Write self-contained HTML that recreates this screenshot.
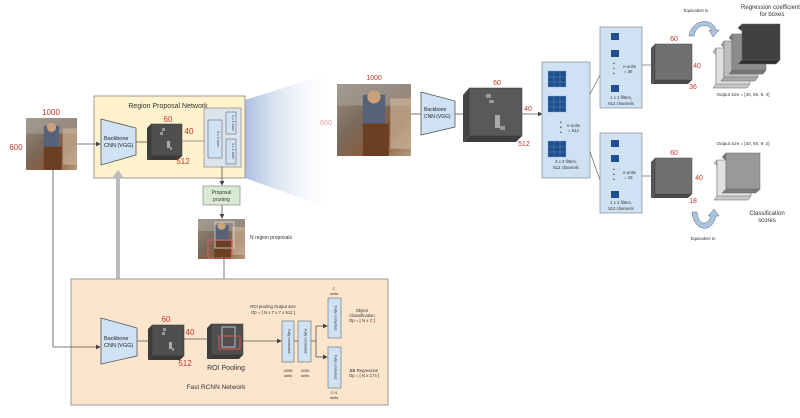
<!DOCTYPE html>
<html><head><meta charset="utf-8"><style>
html,body{margin:0;padding:0;background:#fff;width:800px;height:418px;overflow:hidden}
svg{display:block;font-family:"Liberation Sans",sans-serif}
.r{fill:#c0392b}
</style></head><body>
<svg width="800" height="418" viewBox="0 0 800 418" xmlns="http://www.w3.org/2000/svg">
<defs>
<linearGradient id="fan" x1="0" x2="1" y1="0" y2="0"><stop offset="0" stop-color="#a9bfe0"/><stop offset="1" stop-color="#ffffff" stop-opacity="0"/></linearGradient>
<linearGradient id="ph" x1="0" x2="1" y1="0" y2="1"><stop offset="0" stop-color="#9c8f80"/><stop offset="0.4" stop-color="#7a6a5c"/><stop offset="0.7" stop-color="#8a5a3a"/><stop offset="1" stop-color="#b59b7c"/></linearGradient>
<marker id="ah" markerWidth="6" markerHeight="6" refX="5" refY="3" orient="auto"><path d="M0,0L6,3L0,6z" fill="#444"/></marker>
<g id="photo">
<rect x="0" y="0" width="100" height="100" fill="url(#ph)"/>
<rect x="0" y="0" width="100" height="30" fill="#a8a39c" opacity=".6"/>
<rect x="35" y="15" width="30" height="45" fill="#56627a"/>
<circle cx="50" cy="18" r="9" fill="#c9a27d"/>
<rect x="35" y="55" width="35" height="45" fill="#6b3f22"/>
<rect x="72" y="20" width="28" height="70" fill="#c8b49a" opacity=".7"/>
</g>
<g id="cubeA">
</g>
</defs>

<!-- fan gradient -->
<polygon points="245,100 335,72 335,210 245,178" fill="url(#fan)"/>

<!-- left photo -->
<g transform="translate(26,118) scale(0.51,0.52)"><use href="#photo"/></g>
<text x="51" y="115" font-size="8" class="r" text-anchor="middle">1000</text>
<text x="16" y="150" font-size="8" class="r" text-anchor="middle">600</text>

<!-- RPN box -->
<rect x="94" y="96" width="151" height="82" fill="#fff2cc" stroke="#999" stroke-width="1"/>
<text x="168" y="108" font-size="7" fill="#333" text-anchor="middle">Region Proposal Network</text>
<line x1="77" y1="144" x2="100" y2="144" stroke="#555" stroke-width=".8" marker-end="url(#ah)"/>
<polygon points="101,119 136,128 136,155 101,165" fill="#cfe2f3" stroke="#555" stroke-width=".8"/>
<text x="104" y="140" font-size="5.5" fill="#222">Backbone</text>
<text x="104" y="147" font-size="5.5" fill="#222">CNN (VGG)</text>
<line x1="136" y1="142" x2="147" y2="142" stroke="#555" stroke-width=".8"/>
<!-- cube1 -->
<polygon points="147,128 151,124 151,156 147,160" fill="#3d3d3d"/>
<polygon points="147,160 151,156 182,156 178,160" fill="#3a3a3a"/>
<rect x="151" y="124" width="31" height="32" fill="#4f4f4f" stroke="#333" stroke-width=".5"/>
<rect x="162" y="128" width="3" height="3" fill="#999"/><rect x="160" y="132" width="3" height="3" fill="#999"/><rect x="167" y="141" width="3" height="7" fill="#aaa"/><rect x="170" y="147" width="2" height="3" fill="#999"/>
<text x="168" y="122" font-size="8" class="r" text-anchor="middle">60</text>
<text x="189" y="134" font-size="8" class="r" text-anchor="middle">40</text>
<text x="183" y="164" font-size="8" class="r" text-anchor="middle">512</text>
<line x1="182" y1="141" x2="204" y2="141" stroke="#777" stroke-width=".8"/>
<!-- conv panel -->
<rect x="204" y="108" width="37" height="59" fill="#dbe4ec" stroke="#888" stroke-width=".7"/>
<rect x="208" y="120" width="14" height="38" fill="#cfe2f3" stroke="#666" stroke-width=".6"/>
<rect x="226" y="112" width="10" height="22" fill="#cfe2f3" stroke="#666" stroke-width=".6"/>
<rect x="226" y="139" width="10" height="25" fill="#cfe2f3" stroke="#666" stroke-width=".6"/>
<text transform="translate(217,139) rotate(90)" font-size="3.5" fill="#333" text-anchor="middle">3 x 3 conv</text>
<text transform="translate(232,123) rotate(90)" font-size="3.5" fill="#333" text-anchor="middle">1 x 1 conv</text>
<text transform="translate(232,151) rotate(90)" font-size="3.5" fill="#333" text-anchor="middle">1 x 1 conv</text>
<line x1="222" y1="167" x2="222" y2="185" stroke="#555" stroke-width=".8" marker-end="url(#ah)"/>
<!-- proposal pruning -->
<rect x="203" y="186" width="37" height="19" fill="#d9ead3" stroke="#888" stroke-width=".7"/>
<text x="221.5" y="194" font-size="5" fill="#333" text-anchor="middle">Proposal</text>
<text x="221.5" y="201" font-size="5" fill="#333" text-anchor="middle">pruning</text>
<line x1="222" y1="205" x2="222" y2="218" stroke="#555" stroke-width=".8" marker-end="url(#ah)"/>
<!-- N region photo -->
<g transform="translate(198,219) scale(0.47,0.4)"><use href="#photo"/></g>
<rect x="215" y="222" width="19" height="26" fill="none" stroke="#ddd" stroke-width=".8"/>
<rect x="208" y="240" width="24" height="18" fill="none" stroke="#e06060" stroke-width="1"/>
<text x="250" y="239" font-size="5" fill="#333">N region proposals</text>
<line x1="224" y1="258" x2="224" y2="323" stroke="#555" stroke-width=".8" marker-end="url(#ah)"/>

<!-- gray thick double arrow -->
<line x1="118" y1="177" x2="118" y2="307" stroke="#bbb" stroke-width="4"/>
<polygon points="112,178 124,178 118,170" fill="#bbb"/>
<polygon points="112,307 124,307 118,315" fill="#bbb"/>

<!-- Fast RCNN box -->
<rect x="71" y="279" width="317" height="126" fill="#fce5cd" stroke="#999" stroke-width="1"/>
<text x="216" y="389" font-size="6.5" fill="#333" text-anchor="middle">Fast RCNN Network</text>
<polyline points="53,170 53,347 100,347" fill="none" stroke="#555" stroke-width=".8" marker-end="url(#ah)"/>
<polygon points="101,318 137,328 137,356 101,364" fill="#cfe2f3" stroke="#555" stroke-width=".8"/>
<text x="104" y="340" font-size="5.5" fill="#222">Backbone</text>
<text x="104" y="347" font-size="5.5" fill="#222">CNN (VGG)</text>
<line x1="137" y1="341" x2="148" y2="341" stroke="#555" stroke-width=".8"/>
<polygon points="148,329 152,325 152,356 148,360" fill="#3d3d3d"/>
<polygon points="148,360 152,356 184,356 180,360" fill="#3a3a3a"/>
<rect x="152" y="325" width="32" height="31" fill="#4f4f4f" stroke="#333" stroke-width=".5"/>
<rect x="163" y="328" width="3" height="3" fill="#999"/><rect x="162" y="332" width="3" height="3" fill="#999"/><rect x="169" y="342" width="3" height="7" fill="#aaa"/><rect x="172" y="348" width="2" height="3" fill="#999"/>
<text x="166" y="322" font-size="8" class="r" text-anchor="middle">60</text>
<text x="190" y="335" font-size="8" class="r" text-anchor="middle">40</text>
<text x="185" y="366" font-size="8" class="r" text-anchor="middle">512</text>
<line x1="184" y1="339" x2="207" y2="339" stroke="#555" stroke-width=".8"/>
<!-- ROI cube -->
<polygon points="207,328 211,324 211,355 207,359" fill="#3d3d3d"/>
<polygon points="207,359 211,355 243,355 239,359" fill="#3a3a3a"/>
<rect x="211" y="324" width="32" height="31" fill="#4f4f4f" stroke="#333" stroke-width=".5"/>
<rect x="222" y="327" width="13" height="20" fill="none" stroke="#cde" stroke-width=".8"/>
<rect x="219" y="336" width="21" height="13" fill="none" stroke="#e05050" stroke-width="1"/>
<text x="226" y="370" font-size="7" fill="#333" text-anchor="middle">ROI Pooling</text>
<text x="273" y="308" font-size="4.3" fill="#333" text-anchor="middle">ROI pooling Output size</text>
<text x="273" y="314" font-size="4.3" fill="#333" text-anchor="middle">Op = [ N x 7 x 7 x 512 ]</text>
<line x1="243" y1="341" x2="281" y2="341" stroke="#555" stroke-width=".8" marker-end="url(#ah)"/>
<rect x="282" y="321" width="12" height="41" fill="#cfe2f3" stroke="#666" stroke-width=".6"/>
<rect x="298" y="321" width="13" height="41" fill="#cfe2f3" stroke="#666" stroke-width=".6"/>
<line x1="294" y1="341" x2="298" y2="341" stroke="#555" stroke-width=".8"/>
<text transform="translate(288,341) rotate(90)" font-size="3.5" fill="#333" text-anchor="middle">Fully connected</text>
<text transform="translate(304.5,341) rotate(90)" font-size="3.5" fill="#333" text-anchor="middle">Fully connected</text>
<text x="288" y="372" font-size="4" fill="#333" text-anchor="middle">4096</text><text x="288" y="377" font-size="4" fill="#333" text-anchor="middle">units</text>
<text x="305" y="372" font-size="4" fill="#333" text-anchor="middle">4096</text><text x="305" y="377" font-size="4" fill="#333" text-anchor="middle">units</text>
<polyline points="311,341 316,341" stroke="#555" stroke-width=".8" fill="none"/>
<polyline points="316,326 316,357" stroke="#555" stroke-width=".8" fill="none"/>
<line x1="316" y1="326" x2="327" y2="326" stroke="#555" stroke-width=".8" marker-end="url(#ah)"/>
<line x1="316" y1="357" x2="327" y2="357" stroke="#555" stroke-width=".8" marker-end="url(#ah)"/>
<rect x="328" y="298" width="13" height="40" fill="#cfe2f3" stroke="#666" stroke-width=".6"/>
<rect x="328" y="347" width="13" height="41" fill="#cfe2f3" stroke="#666" stroke-width=".6"/>
<text transform="translate(334.5,318) rotate(90)" font-size="3.5" fill="#333" text-anchor="middle">Fully connected</text>
<text transform="translate(334.5,367) rotate(90)" font-size="3.5" fill="#333" text-anchor="middle">Fully connected</text>
<text x="334" y="290" font-size="4" fill="#333" text-anchor="middle">C</text><text x="334" y="295" font-size="4" fill="#333" text-anchor="middle">units</text>
<text x="334" y="394" font-size="4" fill="#333" text-anchor="middle">C*4</text><text x="334" y="399" font-size="4" fill="#333" text-anchor="middle">units</text>
<text x="362" y="312" font-size="4.3" fill="#333" text-anchor="middle">Object</text>
<text x="362" y="317" font-size="4.3" fill="#333" text-anchor="middle">Classification</text>
<text x="362" y="322" font-size="4.3" fill="#333" text-anchor="middle">Op = [ N x C ]</text>
<text x="364" y="372" font-size="4.3" fill="#333" text-anchor="middle">BB Regression</text>
<text x="364" y="377" font-size="4.3" fill="#333" text-anchor="middle">Op = [ N x C*4 ]</text>

<!-- RIGHT SECTION -->
<g transform="translate(337,84) scale(0.74,0.72)"><use href="#photo"/></g>
<text x="374" y="80" font-size="7" class="r" text-anchor="middle">1000</text>
<text x="326" y="125" font-size="7" fill="#e0a0a0" text-anchor="middle">600</text>
<line x1="411" y1="114" x2="421" y2="114" stroke="#555" stroke-width=".8"/>
<polygon points="421,92 455,101 455,127 421,135" fill="#cfe2f3" stroke="#555" stroke-width=".8"/>
<text x="424" y="111" font-size="5" fill="#222">Backbone</text>
<text x="424" y="118" font-size="5" fill="#222">CNN (VGG)</text>
<line x1="455" y1="114" x2="463" y2="114" stroke="#555" stroke-width=".8"/>
<polygon points="463,95 469,88 469,136 463,142" fill="#444"/>
<polygon points="463,142 469,136 522,136 516,142" fill="#3e3e3e"/>
<rect x="469" y="88" width="53" height="48" fill="#595959" stroke="#333" stroke-width=".5"/>
<rect x="486" y="94" width="5" height="4" fill="#999"/><rect x="489" y="100" width="5" height="3" fill="#999"/><rect x="495" y="115" width="5" height="13" fill="#aaa"/><rect x="500" y="126" width="5" height="4" fill="#999"/>
<text x="497" y="85" font-size="7" class="r" text-anchor="middle">60</text>
<text x="528" y="111" font-size="7" class="r" text-anchor="middle">40</text>
<text x="524" y="146" font-size="7" class="r" text-anchor="middle">512</text>
<line x1="522" y1="114" x2="542" y2="114" stroke="#555" stroke-width=".8" marker-end="url(#ah)"/>
<!-- blue panel -->
<rect x="542" y="62" width="48" height="116" fill="#cfe2f3" stroke="#888" stroke-width=".7"/>
<g fill="#1f4e8c" stroke="#7fa8d8" stroke-width=".4">
<rect x="548" y="71" width="18" height="16"/><rect x="548" y="96" width="18" height="16"/><rect x="548" y="141" width="18" height="16"/>
</g>
<g stroke="#6d9bd1" stroke-width=".4">
<line x1="554" y1="71" x2="554" y2="87"/><line x1="560" y1="71" x2="560" y2="87"/><line x1="548" y1="77" x2="566" y2="77"/><line x1="548" y1="82" x2="566" y2="82"/>
<line x1="554" y1="96" x2="554" y2="112"/><line x1="560" y1="96" x2="560" y2="112"/><line x1="548" y1="102" x2="566" y2="102"/><line x1="548" y1="107" x2="566" y2="107"/>
<line x1="554" y1="141" x2="554" y2="157"/><line x1="560" y1="141" x2="560" y2="157"/><line x1="548" y1="147" x2="566" y2="147"/><line x1="548" y1="152" x2="566" y2="152"/>
</g>
<text x="560" y="124" font-size="5" fill="#333">•</text><text x="560" y="129" font-size="5" fill="#333">•</text><text x="560" y="134" font-size="5" fill="#333">•</text>
<text x="567" y="127" font-size="4.3" fill="#333">n-units</text><text x="568" y="132" font-size="4.3" fill="#333">= 512</text>
<text x="566" y="163" font-size="4.3" fill="#333" text-anchor="middle">3 x 3 filters,</text>
<text x="566" y="169" font-size="4.3" fill="#333" text-anchor="middle">512 channels</text>
<line x1="590" y1="94" x2="600" y2="75" stroke="#555" stroke-width=".6"/>
<line x1="590" y1="152" x2="600" y2="180" stroke="#555" stroke-width=".6"/>
<!-- upper small panel -->
<rect x="600" y="27" width="42" height="81" fill="#cfe2f3" stroke="#888" stroke-width=".7"/>
<rect x="611" y="33" width="8" height="7" fill="#1f4e8c"/><rect x="611" y="50" width="8" height="7" fill="#1f4e8c"/><rect x="611" y="85" width="8" height="7" fill="#1f4e8c"/>
<text x="613" y="65" font-size="5" fill="#333">•</text><text x="613" y="70" font-size="5" fill="#333">•</text><text x="613" y="75" font-size="5" fill="#333">•</text>
<text x="623" y="68" font-size="4.3" fill="#333">n-units</text><text x="624" y="73" font-size="4.3" fill="#333">= 36</text>
<text x="621" y="99" font-size="4.3" fill="#333" text-anchor="middle">1 x 1 filters,</text>
<text x="621" y="105" font-size="4.3" fill="#333" text-anchor="middle">512 channels</text>
<!-- lower small panel -->
<rect x="600" y="133" width="42" height="80" fill="#cfe2f3" stroke="#888" stroke-width=".7"/>
<rect x="611" y="140" width="8" height="7" fill="#1f4e8c"/><rect x="611" y="155" width="8" height="7" fill="#1f4e8c"/><rect x="611" y="191" width="8" height="7" fill="#1f4e8c"/>
<text x="613" y="171" font-size="5" fill="#333">•</text><text x="613" y="176" font-size="5" fill="#333">•</text><text x="613" y="181" font-size="5" fill="#333">•</text>
<text x="623" y="174" font-size="4.3" fill="#333">n-units</text><text x="624" y="179" font-size="4.3" fill="#333">= 18</text>
<text x="621" y="204" font-size="4.3" fill="#333" text-anchor="middle">1 x 1 filters,</text>
<text x="621" y="210" font-size="4.3" fill="#333" text-anchor="middle">512 channels</text>
<line x1="642" y1="65" x2="651" y2="65" stroke="#555" stroke-width=".6"/>
<line x1="642" y1="176" x2="651" y2="176" stroke="#555" stroke-width=".6"/>
<!-- upper cube -->
<polygon points="651,48 655,44 655,80 651,84" fill="#555"/>
<polygon points="651,84 655,80 692,80 688,84" fill="#4a4a4a"/>
<rect x="655" y="44" width="37" height="36" fill="#707070" stroke="#444" stroke-width=".5"/>
<text x="674" y="41" font-size="7" class="r" text-anchor="middle">60</text>
<text x="697" y="68" font-size="7" class="r" text-anchor="middle">40</text>
<text x="693" y="89" font-size="7" class="r" text-anchor="middle">36</text>
<!-- lower cube -->
<polygon points="651,162 655,158 655,194 651,198" fill="#555"/>
<polygon points="651,198 655,194 692,194 688,198" fill="#4a4a4a"/>
<rect x="655" y="158" width="37" height="36" fill="#707070" stroke="#444" stroke-width=".5"/>
<text x="674" y="155" font-size="7" class="r" text-anchor="middle">60</text>
<text x="699" y="180" font-size="7" class="r" text-anchor="middle">40</text>
<text x="693" y="203" font-size="7" class="r" text-anchor="middle">18</text>
<!-- upper stack -->
<g stroke="#666" stroke-width=".5">
<polygon points="713,52 716,48 716,84 713,88 747,88 750,84" fill="#c8c8c8"/><rect x="716" y="48" width="34" height="36" fill="#e0e0e0"/>
<polygon points="721,45 724,41 724,77 721,81 755,81 758,77" fill="#a8a8a8"/><rect x="724" y="41" width="34" height="36" fill="#bdbdbd"/>
<polygon points="729,38 732,34 732,70 729,74 763,74 766,70" fill="#777"/><rect x="732" y="34" width="34" height="36" fill="#8c8c8c"/>
<polygon points="738,28 742,24 742,60 738,64 776,64 780,60" fill="#2e2e2e"/><rect x="742" y="24" width="38" height="36" fill="#404040"/>
</g>
<text x="743" y="96" font-size="4.5" fill="#333" text-anchor="middle">Output size = [40, 60, 9, 4]</text>
<text x="772" y="9" font-size="6" fill="#333" text-anchor="middle">Regression coefficients</text>
<text x="772" y="16" font-size="6" fill="#333" text-anchor="middle">for boxes</text>
<text x="696" y="12" font-size="4.3" fill="#333" text-anchor="middle">Equivalent to</text>
<path d="M689,36 C691,20 712,16 716,30 L719,30 L713,37 L709,30 L712,30 C708,23 696,24 694,36 Z" fill="#a9c4e0" stroke="#667" stroke-width=".5"/>
<!-- lower stack -->
<g stroke="#666" stroke-width=".5">
<polygon points="714,163 717,160 717,196 714,200 748,200 751,196" fill="#c8c8c8"/><rect x="717" y="160" width="34" height="36" fill="#e0e0e0"/>
<polygon points="722,157 726,153 726,189 722,193 756,193 760,189" fill="#7a7a7a"/><rect x="726" y="153" width="34" height="36" fill="#999"/>
</g>
<text x="743" y="145" font-size="4.5" fill="#333" text-anchor="middle">Output size = [40, 60, 9, 2]</text>
<text x="767" y="215" font-size="6" fill="#333" text-anchor="middle">Classification</text>
<text x="767" y="222" font-size="6" fill="#333" text-anchor="middle">scores</text>
<text x="703" y="240" font-size="4.3" fill="#333" text-anchor="middle">Equivalent to</text>
<path d="M692,212 C694,232 712,234 716,216 L719,216 L714,209 L708,216 L711,216 C708,226 698,226 697,212 Z" fill="#a9c4e0" stroke="#667" stroke-width=".5"/>
</svg>
</body></html>
